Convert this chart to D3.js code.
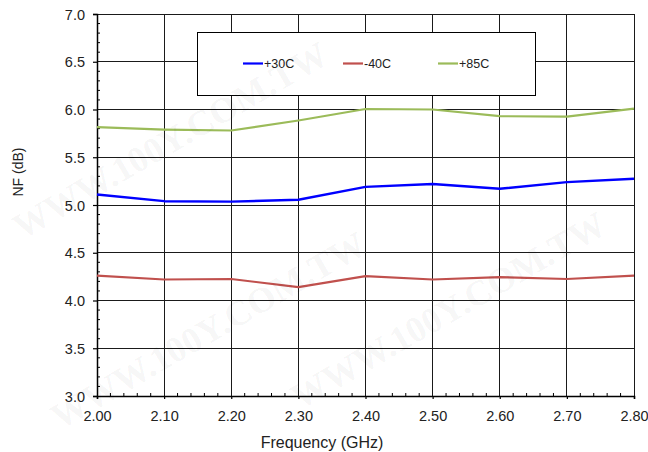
<!DOCTYPE html>
<html>
<head>
<meta charset="utf-8">
<script src="https://cdn.jsdelivr.net/npm/d3@7"></script>
<style>
  html, body { margin: 0; padding: 0; background: #fff; }
  svg { display: block; font-family: "Liberation Sans", Arial, sans-serif; }
</style>
</head>
<body>
<svg id="chart" width="648" height="452"></svg>
<script>
// ---- data ----
const freqs = [2.00, 2.10, 2.20, 2.30, 2.40, 2.50, 2.60, 2.70, 2.80];
const nfPlus30 = [5.11, 5.04, 5.035, 5.055, 5.19, 5.22, 5.17, 5.24, 5.275];
const nfMinus40 = [4.26, 4.22, 4.225, 4.14, 4.255, 4.22, 4.245, 4.225, 4.26];
const nfPlus85 = [5.815, 5.79, 5.78, 5.885, 6.005, 6.00, 5.93, 5.925, 6.01];
const seriesNames = ["+30C", "-40C", "+85C"];
const seriesColors = ["#0000ff", "#c0504d", "#9bbb59"];
const xTicks = [2.00, 2.10, 2.20, 2.30, 2.40, 2.50, 2.60, 2.70, 2.80];
const yTicks = [3.0, 3.5, 4.0, 4.5, 5.0, 5.5, 6.0, 6.5, 7.0];
const xTitle = "Frequency (GHz)";
const yTitle = "NF (dB)";
const watermark = "WWW.100Y.COM.TW";

const series = [nfPlus30, nfMinus40, nfPlus85];

const svg = d3.select("#chart");
const L = 97, R = 634, T = 14, B = 396;
const x = d3.scaleLinear().domain([2.0, 2.8]).range([L, R]);
const y = d3.scaleLinear().domain([3.0, 7.0]).range([B, T]);

// gridlines
const grid = svg.append("g").attr("stroke", "#1a1a1a").attr("stroke-width", 1).attr("shape-rendering", "crispEdges");
grid.selectAll(".vx").data(xTicks).join("line")
  .attr("x1", d => x(d)).attr("x2", d => x(d)).attr("y1", T).attr("y2", B);
grid.selectAll(".hy").data(yTicks).join("line")
  .attr("x1", L).attr("x2", R).attr("y1", d => y(d)).attr("y2", d => y(d));

// axes
const xAxis = d3.axisBottom(x).tickValues(xTicks).tickFormat(d3.format(".2f")).tickSize(3).tickPadding(12);
const gx = svg.append("g").attr("transform", `translate(0,${B})`).call(xAxis);
const yAxis = d3.axisLeft(y).tickValues(yTicks).tickFormat(d3.format(".1f")).tickSize(4).tickPadding(8);
const gy = svg.append("g").attr("transform", `translate(${L},0)`).call(yAxis);
[gx, gy].forEach(g => {
  g.select(".domain").attr("stroke", "#000").attr("stroke-width", 1.5);
  g.selectAll(".tick line").attr("stroke", "#000").attr("stroke-width", 1.2);
  g.selectAll("text").attr("font-size", "14.5px").attr("fill", "#222")
    .attr("font-family", "'Liberation Sans', Arial, sans-serif");
});
gy.selectAll("text").attr("dy", "0.36em");

// minor ticks
const xMinor = d3.range(0, 41).map(i => 2.0 + i * 0.02).filter((d, i) => i % 5 !== 0);
svg.append("g").selectAll("line").data(xMinor).join("line")
  .attr("x1", d => x(d)).attr("x2", d => x(d)).attr("y1", B).attr("y2", B - 3)
  .attr("stroke", "#000").attr("stroke-width", 1);
const yMinor = d3.range(0, 41).map(i => 3.0 + i * 0.1).filter((d, i) => i % 5 !== 0);
svg.append("g").selectAll("line").data(yMinor).join("line")
  .attr("x1", L).attr("x2", L + 3).attr("y1", d => y(d)).attr("y2", d => y(d))
  .attr("stroke", "#000").attr("stroke-width", 1);

// series lines
const line = d3.line().x((d, i) => x(freqs[i])).y(d => y(d));
svg.append("g").selectAll("path").data(series).join("path")
  .attr("d", d => line(d))
  .attr("fill", "none")
  .attr("stroke", (d, i) => seriesColors[i])
  .attr("stroke-width", (d, i) => i === 0 ? 2.4 : 2.2)
  .attr("stroke-linejoin", "round");

// legend
const lg = svg.append("g");
lg.append("rect").attr("x", 197).attr("y", 32).attr("width", 338).attr("height", 63)
  .attr("fill", "#fff").attr("stroke", "#000").attr("stroke-width", 1).attr("shape-rendering", "crispEdges");
const legX = [243, 343, 438];
seriesNames.forEach((name, i) => {
  lg.append("line").attr("x1", legX[i]).attr("x2", legX[i] + 20).attr("y1", 63.5).attr("y2", 63.5)
    .attr("stroke", seriesColors[i]).attr("stroke-width", 2.2);
  lg.append("text").attr("x", legX[i] + 21).attr("y", 68).attr("font-size", "12.5px").attr("fill", "#222")
    .text(name);
});

// axis titles
svg.append("text").attr("x", 322).attr("y", 448).attr("text-anchor", "middle")
  .attr("font-size", "16px").attr("fill", "#222").text(xTitle);
svg.append("text").attr("transform", "translate(23,172) rotate(-90)").attr("text-anchor", "middle")
  .attr("font-size", "14px").attr("fill", "#222").text(yTitle);

// faint watermarks (kept fully inside the picture)
const wm = [
  {x: 22, y: 240}, {x: 60, y: 430}, {x: 300, y: 410}
];
svg.append("g").attr("pointer-events", "none").selectAll("text").data(wm).join("text")
  .attr("transform", d => `translate(${d.x},${d.y}) rotate(-30)`)
  .attr("font-family", "'Liberation Serif', 'Times New Roman', serif")
  .attr("font-weight", "bold").attr("font-size", "36px")
  .attr("fill", "#000").attr("fill-opacity", 0.055)
  .text(watermark);
</script>
</body>
</html>
